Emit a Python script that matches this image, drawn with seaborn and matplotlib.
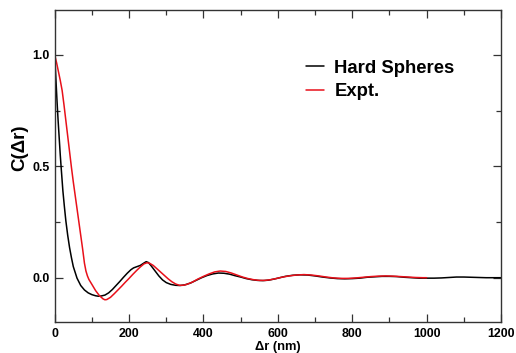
import numpy as np
import pandas as pd
import matplotlib
matplotlib.use("Agg")
import matplotlib.pyplot as plt
import seaborn as sns
from matplotlib.ticker import MultipleLocator

# Hard Spheres curve
hs_x = [0, 3, 6, 9, 12, 15, 18, 22, 26, 30, 35, 40, 45, 50, 60, 70, 80, 90, 100, 110,
        117, 125, 135, 145, 155, 165, 175, 185, 195, 205, 212, 220, 230, 240, 246, 252,
        260, 270, 280, 290, 300, 312, 325, 337, 350, 365, 380, 395, 410, 425, 440, 455,
        470, 485, 500, 515, 530, 545, 560, 575, 590, 605, 620, 640, 660, 680, 700, 720,
        740, 760, 780, 800, 820, 840, 860, 880, 900, 920, 940, 960, 980, 1000, 1020, 1040,
        1060, 1080, 1100, 1120, 1140, 1160, 1180, 1200]
hs_y = [1.0, 0.90, 0.80, 0.71, 0.63, 0.55, 0.48, 0.39, 0.32, 0.255, 0.19, 0.135, 0.09,
        0.05, -0.002, -0.035, -0.055, -0.068, -0.076, -0.081, -0.083, -0.082, -0.078,
        -0.068, -0.053, -0.035, -0.017, 0.002, 0.02, 0.036, 0.044, 0.049, 0.055, 0.066,
        0.072, 0.068, 0.052, 0.03, 0.008, -0.01, -0.022, -0.03, -0.034, -0.035, -0.032,
        -0.024, -0.012, 0.0, 0.01, 0.017, 0.021, 0.02, 0.016, 0.009, 0.003, -0.004,
        -0.009, -0.012, -0.013, -0.011, -0.006, 0.0, 0.006, 0.011, 0.013, 0.012, 0.008,
        0.003, -0.001, -0.004, -0.005, -0.004, -0.002, 0.002, 0.004, 0.006, 0.006, 0.005,
        0.002, 0.0, -0.002, -0.002, -0.002, -0.001, 0.001, 0.003, 0.003, 0.002, 0.001,
        0.0, 0.0, 0.0]

# Experimental curve
ex_x = [0, 5, 10, 15, 20, 25, 30, 35, 40, 45, 50, 55, 60, 65, 70, 75, 80, 84, 88, 92,
        100, 110, 120, 130, 135, 140, 150, 160, 170, 180, 190, 200, 210, 220, 230, 240,
        248, 255, 265, 275, 285, 295, 305, 315, 325, 335, 345, 355, 370, 385, 400, 415,
        430, 445, 460, 475, 490, 505, 520, 535, 550, 565, 580, 595, 610, 630, 650, 670,
        690, 710, 730, 750, 770, 790, 810, 830, 850, 870, 890, 910, 930, 950, 970, 990,
        1000]
ex_y = [1.0, 0.965, 0.925, 0.885, 0.84, 0.775, 0.705, 0.635, 0.565, 0.495, 0.43, 0.37,
        0.31, 0.25, 0.19, 0.13, 0.065, 0.03, 0.008, -0.008, -0.03, -0.058, -0.08, -0.095,
        -0.099, -0.098, -0.088, -0.072, -0.055, -0.038, -0.02, -0.003, 0.015, 0.032,
        0.048, 0.062, 0.067, 0.065, 0.055, 0.04, 0.025, 0.01, -0.005, -0.018, -0.028,
        -0.034, -0.034, -0.03, -0.02, -0.006, 0.006, 0.017, 0.026, 0.03, 0.028, 0.021,
        0.012, 0.003, -0.004, -0.009, -0.012, -0.012, -0.009, -0.004, 0.002, 0.008,
        0.012, 0.014, 0.012, 0.008, 0.003, -0.001, -0.003, -0.003, -0.001, 0.002, 0.005,
        0.007, 0.008, 0.007, 0.005, 0.003, 0.001, 0.0, 0.0]

x_ticks = [0, 200, 400, 600, 800, 1000, 1200]
y_ticks = [0.0, 0.5, 1.0]

sns.set_theme(style="ticks")
plt.rcParams['font.family'] = ['Liberation Sans', 'DejaVu Sans']
plt.rcParams['font.weight'] = 'bold'
plt.rcParams['text.color'] = 'black'
plt.rcParams['axes.labelcolor'] = 'black'
plt.rcParams['xtick.labelcolor'] = 'black'
plt.rcParams['ytick.labelcolor'] = 'black'

df = pd.concat([
    pd.DataFrame({"x": hs_x, "y": hs_y, "series": "Hard Spheres"}),
    pd.DataFrame({"x": ex_x, "y": ex_y, "series": "Expt."}),
])

fig = plt.figure(figsize=(5.16, 3.53), dpi=100)
ax = fig.add_axes([0.106, 0.087, 0.865, 0.884])
sns.lineplot(data=df, x="x", y="y", hue="series",
             palette={"Hard Spheres": "black", "Expt.": "#e8101a"},
             linewidth=1.1, ax=ax, sort=False, estimator=None)

ax.set_xlim(0, 1200)
ax.set_ylim(-0.2, 1.2)
ax.set_xticks(x_ticks)
ax.set_xticklabels([str(v) for v in x_ticks], fontweight='bold', fontsize=8.9, color='black')
ax.set_yticks(y_ticks)
ax.set_yticklabels([f"{v:.1f}" for v in y_ticks], fontweight='bold', fontsize=8.9, color='black')
ax.xaxis.set_minor_locator(MultipleLocator(100))
ax.yaxis.set_minor_locator(MultipleLocator(0.25))
ax.tick_params(which='both', direction='in', top=True, right=True, color='#333333', width=0.9)
ax.tick_params(which='major', length=6)
ax.tick_params(axis='x', which='major', pad=4)
ax.tick_params(axis='y', which='major', pad=3.5)
ax.tick_params(which='minor', length=3.5)
for s in ax.spines.values():
    s.set_color('#333333')
    s.set_linewidth(1.0)

ax.set_xlabel("Δr (nm)", fontweight='bold', fontsize=9.3, labelpad=0.5, color='black')
ax.set_ylabel("C(Δr)", fontweight='bold', fontsize=13.5, labelpad=6, color='black')
ax.yaxis.set_label_coords(-0.06, 0.56)

leg = ax.legend(loc='upper left', bbox_to_anchor=(0.525, 0.895), frameon=False,
                handlelength=1.0, handletextpad=0.55, labelspacing=0.35,
                prop={'weight': 'bold', 'size': 13.3})
for h in leg.get_lines():
    h.set_linewidth(1.1)
for t in leg.get_texts():
    t.set_color('black')

fig.savefig("out.png", dpi=100)
